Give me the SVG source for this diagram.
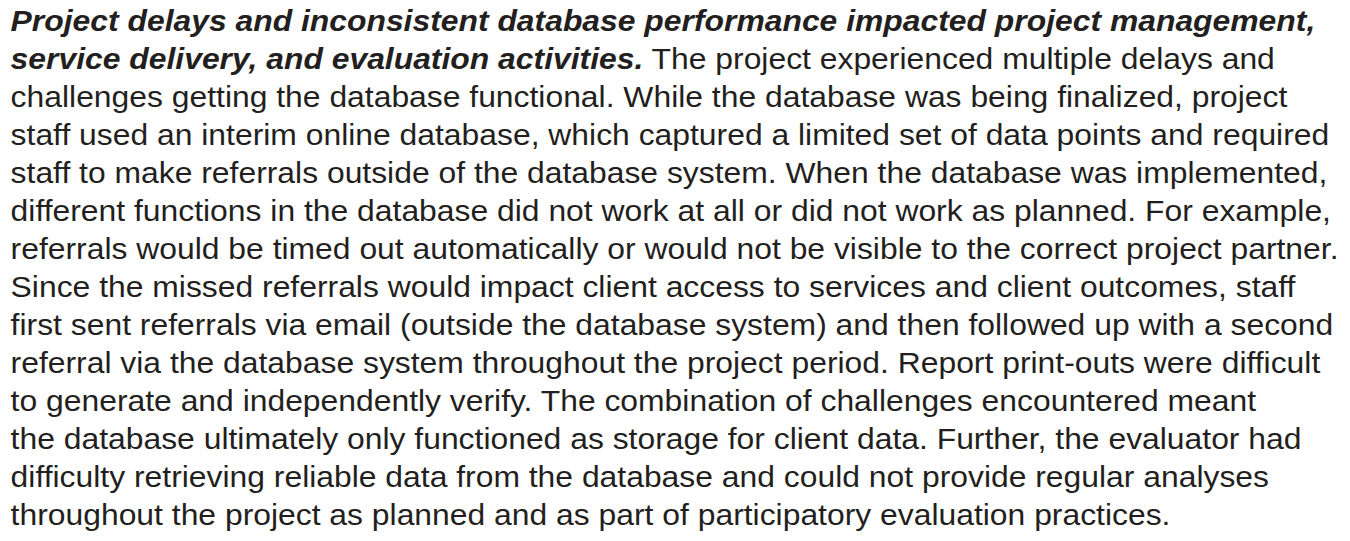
<svg xmlns="http://www.w3.org/2000/svg" width="1350" height="541" viewBox="0 0 1350 541">
<style>
text{font-family:"Liberation Sans",Arial,sans-serif;font-size:30px;fill:#231f20}
.b{font-weight:bold;font-style:italic}
</style>
<rect width="1350" height="541" fill="#ffffff"/>
<g id="paragraph" transform="scale(1.062,1)">
<text x="10" y="31.5" class="b">Project delays and inconsistent database performance impacted project management,</text>
<text x="10" y="69.5"><tspan class="b">service delivery, and evaluation activities.</tspan> The project experienced multiple delays and</text>
<text x="10" y="107.5">challenges getting the database functional. While the database was being finalized, project</text>
<text x="10" y="145.5">staff used an interim online database, which captured a limited set of data points and required</text>
<text x="10" y="183.5">staff to make referrals outside of the database system. When the database was implemented,</text>
<text x="10" y="221.5">different functions in the database did not work at all or did not work as planned. For example,</text>
<text x="10" y="259.5">referrals would be timed out automatically or would not be visible to the correct project partner.</text>
<text x="10" y="297.5">Since the missed referrals would impact client access to services and client outcomes, staff</text>
<text x="10" y="335.5">first sent referrals via email (outside the database system) and then followed up with a second</text>
<text x="10" y="373.5">referral via the database system throughout the project period. Report print-outs were difficult</text>
<text x="10" y="411.5">to generate and independently verify. The combination of challenges encountered meant</text>
<text x="10" y="449.5">the database ultimately only functioned as storage for client data. Further, the evaluator had</text>
<text x="10" y="487.5">difficulty retrieving reliable data from the database and could not provide regular analyses</text>
<text x="10" y="525.5">throughout the project as planned and as part of participatory evaluation practices.</text>
</g>
</svg>
